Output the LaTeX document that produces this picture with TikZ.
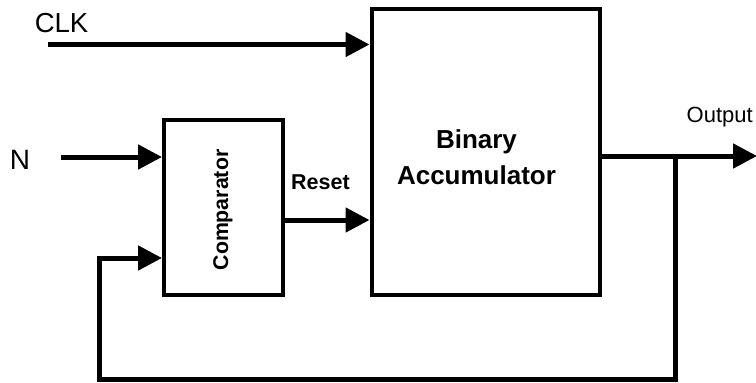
\documentclass[tikz,border=0pt]{standalone}
\usepackage{fontspec}
\setmainfont{Liberation Sans}
\usetikzlibrary{arrows.meta,positioning,calc}

\begin{document}
\begin{tikzpicture}[x=1pt,y=-1pt,
    block/.style={draw, line width=4pt, inner sep=0pt},
    sig/.style={line width=5pt, -{Triangle[length=24pt,width=24pt]}},
    lbl/.style={inner sep=0pt, anchor=base west, font=\fontsize{27.5}{32}\selectfont},
    tag/.style={inner sep=0pt, anchor=base west, font=\bfseries\fontsize{21.5}{26}\selectfont}]
    \useasboundingbox (0,0) rectangle (756,383);
    % Blocks
    \node[block, minimum width=228pt, minimum height=286pt] (acc) at (485.5,152) {};
    \node[block, minimum width=119pt, minimum height=175pt] (cmp) at (223.5,207.5) {};
    \node[inner sep=0pt, align=center, font=\bfseries\fontsize{26}{36}\selectfont]
      (acclbl) at ($(acc.center)+(-9,5.7)$) {Binary\\Accumulator};
    \node[inner sep=0pt, rotate=90, font=\bfseries\fontsize{21.3}{26}\selectfont]
      (cmplbl) at ($(cmp.center)+(-0.7,2.5)$) {Comparator};
    % Clock input
    \coordinate (clk) at (47.5,44.5);
    \draw[sig] (clk) -- (clk -| acc.west);
    \node[lbl] (clklbl) at (34.6,32) {CLK};
    % N input
    \coordinate (nin) at (61,157);
    \draw[sig] (nin) -- (nin -| cmp.west);
    \node[lbl, font=\fontsize{28}{32}\selectfont] (nlbl) at (9.6,169.5) {N};
    % Reset
    \coordinate (rst) at ($(cmp.east)+(0,12.5)$);
    \draw[sig] (rst) -- (rst -| acc.west);
    \node[tag] (rstlbl) at (291,189) {Reset};
    % Output
    \coordinate (out) at (757,156);
    \draw[sig] (acc.east |- out) -- (out);
    \node[lbl, font=\fontsize{22}{26}\selectfont] (outlbl) at (686.5,122) {Output};
    % Feedback
    \coordinate (tap) at (675.5,156);
    \coordinate (fb) at (99.5,379.5);
    \coordinate (fbin) at (99.5,258);
    \draw[sig] (tap) |- (fb) -- (fbin) -- (fbin -| cmp.west);
  \end{tikzpicture}
\end{document}
